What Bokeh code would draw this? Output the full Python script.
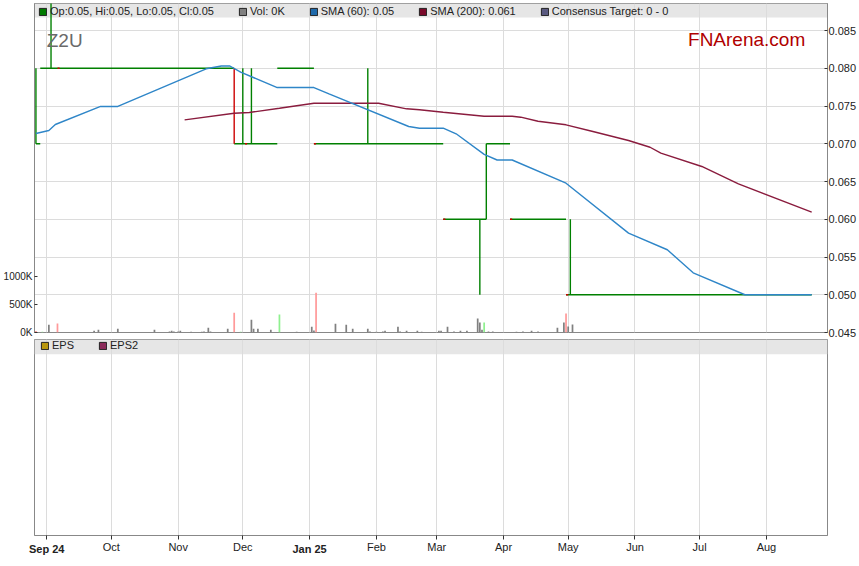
import pandas as pd
from bokeh.plotting import figure
from bokeh.models import (Range1d, LinearAxis, DatetimeAxis, FixedTicker, NumeralTickFormatter,
                          CustomJSTickFormatter, Legend, LegendItem, BoxAnnotation, Label)
from bokeh.layouts import column
from bokeh.embed import file_html
from bokeh.resources import INLINE

FONT = "Liberation Sans"
DAY = 86400000
NAN = float("nan")

# ---------------- data ----------------
month_ticks = ["2024-09-01", "2024-10-01", "2024-11-01", "2024-12-01", "2025-01-01", "2025-02-01",
               "2025-03-01", "2025-04-01", "2025-05-01", "2025-06-01", "2025-07-01", "2025-08-01"]
month_labels = ["Sep 24", "Oct", "Nov", "Dec", "Jan 25", "Feb", "Mar", "Apr", "May", "Jun", "Jul", "Aug"]
bold_labels = ["Sep 24", "Jan 25"]

price_ticks = [0.045, 0.050, 0.055, 0.060, 0.065, 0.070, 0.075, 0.080, 0.085]
vol_ticks = [0, 500000, 1000000]

# constant-price runs of the daily bars
run_start = ["2024-08-27", "2024-08-29", "2024-11-27", "2024-12-17", "2025-01-03",
             "2025-03-04", "2025-03-24", "2025-04-04", "2025-04-30"]
run_end = ["2024-08-29", "2024-11-27", "2024-12-17", "2025-01-03", "2025-03-04",
           "2025-03-24", "2025-04-04", "2025-04-30", "2025-08-22"]
run_price = [0.070, 0.080, 0.070, 0.080, 0.070, 0.060, 0.070, 0.060, 0.050]

# daily high-low ranges
bar_date = ["2024-08-27", "2024-09-03", "2024-11-27", "2024-12-01", "2024-12-05",
            "2025-01-28", "2025-03-21", "2025-03-24", "2025-05-02"]
bar_low = [0.070, 0.080, 0.070, 0.070, 0.070, 0.070, 0.050, 0.060, 0.050]
bar_high = [0.080, 0.092, 0.080, 0.080, 0.080, 0.080, 0.060, 0.070, 0.060]
bar_dir = ["u", "u", "d", "u", "u", "u", "u", "u", "u"]

# down-day open ticks
down_date = ["2024-09-06", "2024-12-02", "2025-01-03", "2025-03-04", "2025-04-04", "2025-04-30"]
down_price = [0.080, 0.070, 0.070, 0.060, 0.060, 0.050]

vol_date = ["2024-08-27", "2024-08-30", "2024-09-02", "2024-09-06", "2024-09-23", "2024-09-25",
            "2024-10-04", "2024-10-21", "2024-10-28", "2024-10-29", "2024-10-30", "2024-11-01",
            "2024-11-02", "2024-11-07", "2024-11-12", "2024-11-13", "2024-11-15", "2024-11-16",
            "2024-11-24", "2024-11-27", "2024-11-30", "2024-12-05", "2024-12-06", "2024-12-08",
            "2024-12-14", "2024-12-18", "2024-12-26", "2025-01-02", "2025-01-03", "2025-01-04",
            "2025-01-13", "2025-01-18", "2025-01-21", "2025-01-28", "2025-01-29", "2025-02-01",
            "2025-02-04", "2025-02-05", "2025-02-11", "2025-02-12", "2025-02-15", "2025-02-20",
            "2025-02-22", "2025-03-02", "2025-03-03", "2025-03-06", "2025-03-09", "2025-03-12",
            "2025-03-15", "2025-03-20", "2025-03-21", "2025-03-22", "2025-03-23", "2025-03-25",
            "2025-03-27", "2025-04-07", "2025-04-10", "2025-04-14", "2025-04-17", "2025-04-26",
            "2025-04-29", "2025-04-30", "2025-05-01", "2025-05-03"]
vol_k = [25, 15, 137, 160, 30, 48,
         65, 48, 18, 30, 18, 18,
         30, 12, 12, 18, 83, 18,
         65, 351, 12, 226, 65, 65,
         48, 321, 12, 101, 36, 708,
         155, 137, 65, 65, 18, 12,
         18, 30, 101, 18, 30, 30,
         12, 30, 30, 101, 18, 30,
         30, 250, 179, 48, 179, 18,
         18, 12, 18, 30, 18, 83,
         179, 339, 107, 143]
vol_dir = ["d", "u", "n", "d", "n", "n",
           "n", "n", "n", "n", "n", "n",
           "n", "n", "n", "n", "n", "n",
           "n", "d", "u", "n", "n", "n",
           "n", "u", "n", "n", "n", "d",
           "n", "n", "n", "n", "n", "n",
           "n", "n", "n", "n", "n", "n",
           "n", "n", "n", "n", "n", "n",
           "n", "n", "n", "n", "u", "n",
           "n", "n", "n", "n", "n", "n",
           "n", "d", "n", "n"]

sma60_date = ["2024-08-27", "2024-09-02", "2024-09-05", "2024-09-26", "2024-10-04", "2024-11-14",
              "2024-11-21", "2024-11-25", "2024-11-30", "2024-12-17", "2025-01-03", "2025-01-10",
              "2025-02-16", "2025-02-21", "2025-03-04", "2025-03-10", "2025-03-23", "2025-03-29",
              "2025-04-05", "2025-04-30", "2025-05-29", "2025-06-16", "2025-06-28", "2025-07-22",
              "2025-08-22"]
sma60_val = [0.07136, 0.07175, 0.07255, 0.07494, 0.07494, 0.07993,
             0.08030, 0.08030, 0.07948, 0.07745, 0.07745, 0.07660,
             0.07229, 0.07206, 0.07206, 0.07132, 0.06860, 0.06785,
             0.06785, 0.06478, 0.05816, 0.05596, 0.05291, 0.05000,
             0.05000]

sma200_date = ["2024-11-04", "2024-11-27", "2024-12-04", "2024-12-18", "2025-01-03", "2025-02-02",
               "2025-02-15", "2025-02-21", "2025-03-04", "2025-03-23", "2025-04-05", "2025-04-09",
               "2025-04-17", "2025-04-30", "2025-05-12", "2025-05-29", "2025-06-08", "2025-06-13",
               "2025-07-02", "2025-07-19", "2025-08-22"]
sma200_val = [0.07317, 0.07405, 0.07414, 0.07471, 0.07537, 0.07537,
              0.07463, 0.07450, 0.07418, 0.07365, 0.07365, 0.07352,
              0.07299, 0.07251, 0.07166, 0.07043, 0.06954, 0.06875,
              0.06699, 0.06470, 0.06094]

top_legend = ["Op:0.05, Hi:0.05, Lo:0.05, Cl:0.05", "Vol: 0K", "SMA (60): 0.05",
              "SMA (200): 0.061", "Consensus Target: 0 - 0"]
bottom_legend = ["EPS", "EPS2"]
ticker_name = "Z2U"
brand = "FNArena.com"

# ---------------- styling / layout ----------------
GREEN = "#008000"
RED = "#cc0000"
GRID = "#dcdcdc"
FRAME = "#888888"
BAND = "#e6e6e6"
vol_colors = {"n": "#808080", "d": "#ff9a9a", "u": "#8ff08f"}
bar_colors = {"u": GREEN, "d": RED}
top_legend_colors = ["#007a00", "#808080", "#1f6aab", "#7a0a2a", "#5a5a80"]
bottom_legend_colors = ["#b8960c", "#8b2a5a"]

W = 859
ML, MR = 31, 29
TOP_BT, TOP_FH, TOP_BB = 3, 329, 7
BOT_FH, BOT_BB = 198, 20

tick_ms = [pd.Timestamp(d).value // 10**6 for d in month_ticks]
x_range = Range1d(pd.Timestamp("2024-08-26 08:00"), pd.Timestamp("2025-08-29 08:00"))


def style_axis(ax, tick_in, tick_out, standoff, size="11px"):
    ax.major_label_text_font = FONT
    ax.major_label_text_font_size = size
    ax.major_label_text_color = "#222222"
    ax.axis_line_color = FRAME
    ax.major_tick_line_color = "#333333"
    ax.major_tick_in = tick_in
    ax.major_tick_out = tick_out
    ax.minor_tick_line_color = None
    ax.major_label_standoff = standoff


def legend_for(fig, labels, colors, x_off, frame_h):
    items = []
    for lab, col in zip(labels, colors):
        r = fig.quad(left=[NAN], right=[NAN], top=[NAN], bottom=[NAN],
                     fill_color=col, line_color="#222222")
        items.append(LegendItem(label=lab, renderers=[r]))
    leg = Legend(items=items, location=(x_off, frame_h - 14), orientation="horizontal",
                 glyph_width=9, glyph_height=9, label_standoff=3, spacing=24, padding=0,
                 margin=0, label_height=9, label_width=1, label_text_font=FONT,
                 label_text_font_size="11px", label_text_color="#222222",
                 background_fill_alpha=0, border_line_alpha=0)
    fig.add_layout(leg)


def month_formatter(keep):
    labs = [l if keep(l) else "" for l in month_labels]
    return CustomJSTickFormatter(
        args=dict(month_ms=tick_ms, month_txt=labs),
        code="const i = month_ms.indexOf(tick); return i < 0 ? '' : month_txt[i];")


# ---------------- top panel ----------------
p = figure(width=W, height=TOP_BT + TOP_FH + TOP_BB, x_axis_type="datetime", x_axis_location=None,
           y_axis_location="right", x_range=x_range, y_range=Range1d(0.045, 0.08858),
           output_backend="svg", toolbar_location=None,
           min_border_top=TOP_BT, min_border_bottom=TOP_BB, min_border_left=ML, min_border_right=MR)
p.outline_line_color = FRAME
p.background_fill_color = "white"
p.border_fill_color = "white"
p.xgrid.ticker = FixedTicker(ticks=tick_ms)
p.xgrid.grid_line_color = GRID
p.ygrid.grid_line_color = GRID

ya = p.yaxis[0]
ya.ticker = FixedTicker(ticks=price_ticks)
ya.formatter = NumeralTickFormatter(format="0.000")
style_axis(ya, 3, 0, 1)

p.extra_y_ranges = {"vol": Range1d(0, 5875000)}
va = LinearAxis(y_range_name="vol", ticker=FixedTicker(ticks=vol_ticks),
                formatter=CustomJSTickFormatter(code="return (tick/1000).toFixed(0) + 'K';"))
style_axis(va, 3, 0, 2, size="10px")
p.add_layout(va, "left")

p.add_layout(BoxAnnotation(bottom=0.08672, fill_color=BAND, fill_alpha=1.0,
                           line_alpha=0, level="image"))

vd = pd.to_datetime(vol_date)
p.vbar(x=vd, top=[v * 1000 for v in vol_k], bottom=0, width=0.8 * DAY,
       fill_color=[vol_colors[d] for d in vol_dir], line_color=None, y_range_name="vol")

p.segment(x0=pd.to_datetime(run_start), x1=pd.to_datetime(run_end), y0=run_price, y1=run_price,
          line_color=GREEN, line_width=1.4)
bd = pd.to_datetime(bar_date)
p.segment(x0=bd, x1=bd, y0=bar_low, y1=bar_high,
          line_color=[bar_colors[d] for d in bar_dir], line_width=1.4)
dd = pd.to_datetime(down_date)
p.segment(x0=dd, x1=dd + pd.Timedelta(days=1), y0=down_price, y1=down_price,
          line_color=RED, line_width=1.4)

p.line(pd.to_datetime(sma200_date), sma200_val, line_color="#8a1c3e", line_width=1.4)
p.line(pd.to_datetime(sma60_date), sma60_val, line_color="#2f86c8", line_width=1.4)

legend_for(p, top_legend, top_legend_colors, 4, TOP_FH)

p.add_layout(Label(x=pd.Timestamp(month_ticks[0]), y=0.08368, text=ticker_name,
                   text_font=FONT, text_font_size="19px", text_color="#6a6a6a",
                   text_baseline="alphabetic", text_align="left"))
p.add_layout(Label(x=pd.Timestamp("2025-08-19"), y=0.08381, text=brand,
                   text_font=FONT, text_font_size="19px", text_color="#b00000",
                   text_baseline="alphabetic", text_align="right"))

# ---------------- bottom panel ----------------
b = figure(width=W, height=BOT_FH + BOT_BB, x_axis_type="datetime", x_range=x_range,
           y_range=Range1d(0, 1), y_axis_location=None, output_backend="svg",
           toolbar_location=None, min_border_top=0, min_border_bottom=BOT_BB,
           min_border_left=ML, min_border_right=MR)
b.outline_line_color = FRAME
b.background_fill_color = "white"
b.border_fill_color = "white"
b.xgrid.ticker = FixedTicker(ticks=tick_ms)
b.xgrid.grid_line_color = GRID
b.ygrid.visible = False

# inner axis: ticks + regular month labels
xa = b.xaxis[0]
xa.ticker = FixedTicker(ticks=tick_ms)
xa.formatter = month_formatter(lambda l: l not in bold_labels)
style_axis(xa, 0, 4, 1)

# outer axis: bold year labels, pulled up onto the same line
xb = DatetimeAxis(ticker=FixedTicker(ticks=tick_ms),
                  formatter=month_formatter(lambda l: l in bold_labels))
style_axis(xb, 0, 0, -13)
xb.axis_line_color = None
xb.major_tick_line_color = None
xb.major_label_text_font_style = "bold"
b.add_layout(xb, "below")

b.add_layout(BoxAnnotation(bottom=1 - 15 / BOT_FH, fill_color=BAND, fill_alpha=1.0,
                           line_alpha=0, level="image"))
legend_for(b, bottom_legend, bottom_legend_colors, 6, BOT_FH)

layout = column(p, b)
open("out.html", "w").write(file_html(layout, INLINE))
